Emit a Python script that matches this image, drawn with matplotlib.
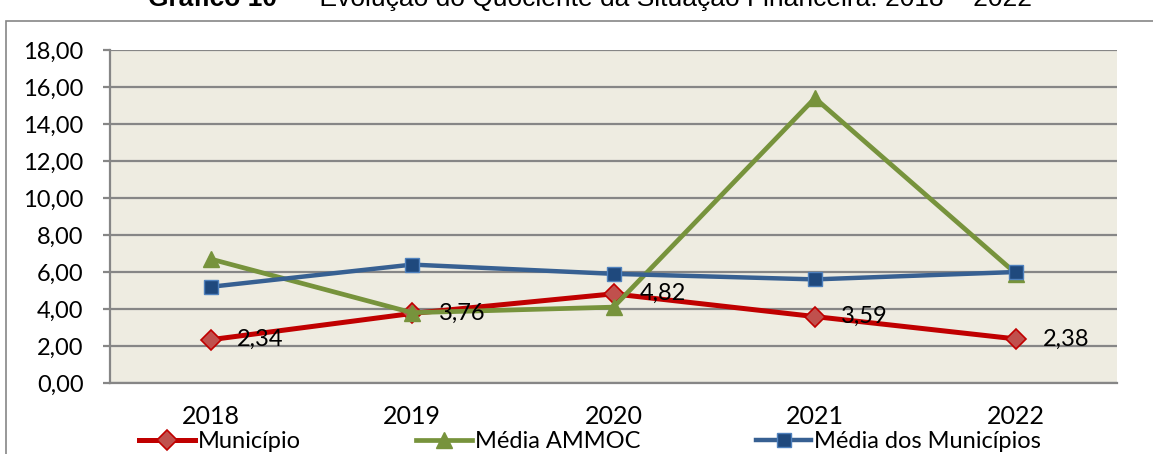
import matplotlib
matplotlib.use("Agg")
import matplotlib.pyplot as plt
from matplotlib.patches import Rectangle
from matplotlib.ticker import FuncFormatter

# dados
anos = ["2018", "2019", "2020", "2021", "2022"]
municipio = [2.34, 3.76, 4.82, 3.59, 2.38]
media_ammoc = [6.7, 3.8, 4.1, 15.4, 5.9]
media_municipios = [5.2, 6.4, 5.9, 5.6, 6.0]

plt.rcParams['font.family'] = ['Lato', 'DejaVu Sans']
fs = 17

fig = plt.figure(figsize=(11.53, 4.54), dpi=100)
ax = fig.add_axes([0.0954, 0.1564, 0.8734, 0.7335])
ax.set_facecolor('#EEECE1')

grid_col = '#868686'
x = list(range(len(anos)))

ax.plot(x, municipio, color='#C00000', lw=3.6, marker='D', ms=9.7,
        mfc='#C0504D', mec='#C00000', mew=1.2, label='Município', zorder=3)
ax.plot(x, media_ammoc, color='#77933C', lw=3.4, marker='^', ms=11,
        mfc='#77933C', mec='#77933C', label='Média AMMOC', zorder=4)
ax.plot(x, media_municipios, color='#376092', lw=3.2, marker='s', ms=10,
        mfc='#1F497D', mec='#4F81BD', mew=1.0, label='Média dos Municípios', zorder=5)

# rótulos de dados do município
for xi, v in zip(x, municipio):
    ax.annotate(f"{v:.2f}".replace('.', ','), (xi, v), xytext=(19, 0),
                textcoords='offset points', ha='left', va='center',
                fontsize=fs, color='black', zorder=6)

ax.set_xlim(-0.5, len(anos) - 0.5)
ax.set_ylim(0, 18)
ax.set_yticks(range(0, 19, 2))
ax.yaxis.set_major_formatter(FuncFormatter(lambda v, p: f"{v:.2f}".replace('.', ',')))
ax.set_xticks(x)
ax.set_xticklabels(anos)
ax.grid(axis='y', color=grid_col, lw=1.6)
ax.set_axisbelow(True)

for s in ['top', 'right']:
    ax.spines[s].set_visible(False)
for s in ['left', 'bottom']:
    ax.spines[s].set_color(grid_col)
    ax.spines[s].set_linewidth(1.6)

ax.tick_params(axis='y', length=5, width=1.6, color=grid_col, pad=14, labelsize=fs)
ax.tick_params(axis='x', length=0, pad=16, labelsize=18)

fig.legend(loc='center', bbox_to_anchor=(0.512, 0.027), ncol=3, frameon=False,
           fontsize=fs, handlelength=2.35, handletextpad=0.12, columnspacing=4.9,
           borderpad=0, borderaxespad=0)

# moldura e título (cortado no topo, como no original)
fig.patches.append(Rectangle((6 / 1153, -0.2), 1.2, 1.2 - 21 / 454, transform=fig.transFigure,
                             fill=False, edgecolor=grid_col, lw=1.2))
fig.text(277 / 1153, 1 - 6 / 454, "Gráfico 10", ha='right', va='baseline',
         fontsize=19, fontweight='bold', family='Liberation Sans')
fig.text(290 / 1153, 1 - 6 / 454, " – Evolução do Quociente da Situação Financeira: 2018 – 2022",
         ha='left', va='baseline', fontsize=19, family='Liberation Sans')

fig.savefig('out.png', dpi=100)
